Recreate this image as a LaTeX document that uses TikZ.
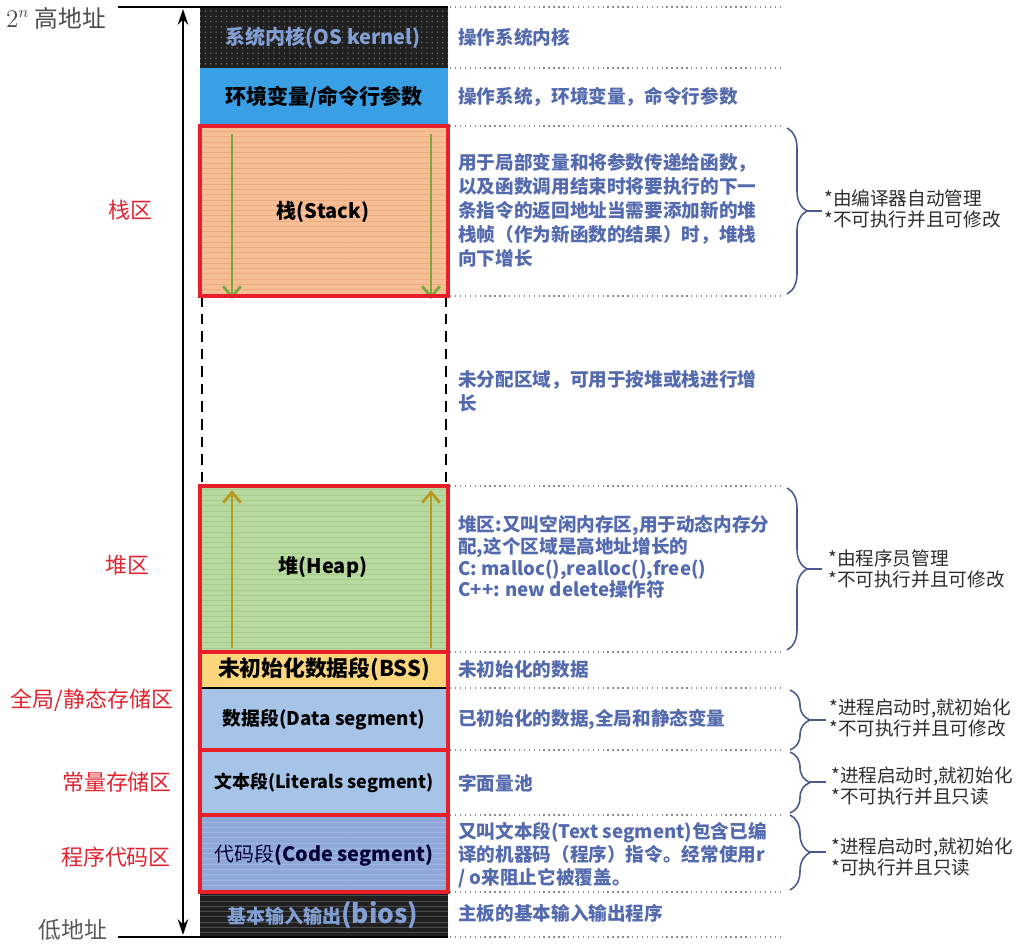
\documentclass[tikz,border=0pt]{standalone}
\usepackage{fontspec}
\setmainfont{Noto Sans CJK SC}
\usepackage{tikz}
\usetikzlibrary{patterns,decorations.pathreplacing,arrows.meta}
\definecolor{kerncol}{RGB}{32,32,32}
\definecolor{kerntext}{RGB}{130,160,214}
\definecolor{envblue}{RGB}{58,160,230}
\definecolor{stackcol}{RGB}{246,190,148}
\definecolor{stackline}{RGB}{236,172,128}
\definecolor{heapcol}{RGB}{184,218,160}
\definecolor{heapline}{RGB}{164,204,136}
\definecolor{bsscol}{RGB}{251,214,124}
\definecolor{datacol}{RGB}{166,196,232}
\definecolor{codecol}{RGB}{144,168,216}
\definecolor{codeline}{RGB}{160,182,226}
\definecolor{framered}{RGB}{232,30,40}
\definecolor{areared}{RGB}{224,36,48}
\definecolor{desccol}{RGB}{84,106,174}
\definecolor{notecol}{RGB}{45,45,45}
\definecolor{bracecol}{RGB}{74,90,144}
\definecolor{stackarrow}{RGB}{122,168,62}
\definecolor{heaparrow}{RGB}{184,154,30}

\begin{document}
\begin{tikzpicture}[x=0.02cm,y=-0.02cm]
\tikzstyle{seglabel}=[font=\bfseries\fontsize{11.4}{13}\selectfont,text=black]
\tikzstyle{desc}=[anchor=west,align=left,inner sep=0pt,font=\bfseries\fontsize{10.6}{13.6}\selectfont,text=desccol]
\tikzstyle{note}=[anchor=west,align=left,inner sep=0pt,font=\fontsize{10.6}{12.4}\selectfont,text=notecol]
\tikzstyle{area}=[font=\fontsize{12.5}{14}\selectfont,text=areared]
\tikzstyle{redbox}=[draw=framered,line width=2.8pt]
\tikzstyle{dotline}=[draw=black!45,dotted,line width=0.8pt]
\tikzstyle{memobrace}=[draw=bracecol,line width=0.9pt,decorate,decoration={brace,amplitude=0.4cm}]
\tikzstyle{growth}=[line width=1.6pt,-{Straight Barb[length=6pt,width=10pt]}]
\useasboundingbox (0,0) rectangle (1019,944);

\fill[kerncol,postaction={pattern=dots,pattern color=black!60}] (200,7) rectangle (448,68);
\fill[envblue] (200,68) rectangle (448,126);
\fill[stackcol,postaction={pattern=horizontal lines,pattern color=stackline}] (200,126) rectangle (448,296);
\fill[heapcol,postaction={pattern=horizontal lines,pattern color=heapline}] (200,486) rectangle (448,652);
\fill[bsscol] (200,652) rectangle (448,688);
\fill[datacol] (200,688) rectangle (448,815);
\fill[codecol,postaction={pattern=horizontal lines,pattern color=codeline}] (200,815) rectangle (448,892);
\fill[kerncol,postaction={pattern=horizontal lines,pattern color=black!70}] (200,892) rectangle (448,937);
\draw[line width=1pt] (200,688) -- (448,688);
\draw[dashed,line width=1.1pt,dash pattern=on 6pt off 4pt] (202,296) -- (202,486) (446,296) -- (446,486);

\draw[growth,stackarrow] (232,134) -- (232,299);
\draw[growth,stackarrow] (431,134) -- (431,299);
\draw[growth,heaparrow] (232,648) -- (232,490);
\draw[growth,heaparrow] (431,648) -- (431,490);

\draw[redbox] (200,126) rectangle (448,296);
\draw[redbox] (200,486) rectangle (448,652);
\draw[redbox] (200,652) rectangle (448,750);
\draw[redbox] (200,750) rectangle (448,815);
\draw[redbox] (200,815) rectangle (448,892);

\foreach \y in {7,68,126,296,486,652,688,750,815,892,937}
  \draw[dotline] (450,\y) -- (780,\y);
\draw[line width=1pt] (118,7) -- (448,7);
\draw[line width=1pt] (118,937) -- (448,937);

\coordinate (hi) at (183,9);
\coordinate (lo) at (183,935);
\draw[line width=1.2pt,{Stealth[length=9pt,width=6pt]}-{Stealth[length=9pt,width=6pt]}] (hi) -- (lo);

\node[seglabel,text=kerntext] (kernel) at (323,38) {系统内核(OS kernel)};
\node[seglabel,font=\bfseries\fontsize{12}{14}\selectfont] (env) at (324,97) {环境变量/命令行参数};
\node[seglabel] (stack) at (323,212) {栈(Stack)};
\node[seglabel] (heap) at (323,567) {堆(Heap)};
\node[seglabel,font=\bfseries\fontsize{12.4}{14}\selectfont] (bss) at (324,669) {未初始化数据段(BSS)};
\node[seglabel,font=\bfseries\fontsize{10.7}{13}\selectfont] (data) at (324,720) {数据段(Data segment)};
\node[seglabel,font=\bfseries\fontsize{10.2}{13}\selectfont] (literal) at (324,783) {文本段(Literals segment)};
\node[seglabel,text=black!80!blue,font=\fontsize{11.3}{14}\selectfont] (code) at (324,855) {代码段{\bfseries(Code segment)}};
\node[seglabel,text=kerntext,font=\bfseries\fontsize{10.8}{14}\selectfont] (bios) at (323,915) {基本输入输出{\fontsize{15}{16}\selectfont(bios)}};

\node[desc] (kerneldesc) at (458,37) {操作系统内核};
\node[desc] (envdesc) at (458,97) {操作系统，环境变量，命令行参数};
\node[desc] (stackdesc) at (458,210) {用于局部变量和将参数传递给函数，\\以及函数调用结束时将要执行的下一\\条指令的返回地址当需要添加新的堆\\栈帧（作为新函数的结果）时，堆栈\\向下增长};
\node[desc] (freedesc) at (458,391) {未分配区域，可用于按堆或栈进行增\\长};
\node[desc,font=\bfseries\fontsize{10.6}{12.3}\selectfont] (heapdesc) at (458,557) {堆区:又叫空闲内存区,用于动态内存分\\配,这个区域是高地址增长的\\C: malloc(),realloc(),free()\\C++: new delete操作符};
\node[desc] (bssdesc) at (458,669) {未初始化的数据};
\node[desc] (datadesc) at (458,720) {已初始化的数据,全局和静态变量};
\node[desc] (literaldesc) at (458,783) {字面量池};
\node[desc,font=\bfseries\fontsize{10.6}{13}\selectfont] (codedesc) at (458,855) {又叫文本段(Text segment)包含已编\\译的机器码（程序）指令。经常使用r\\/ o来阻止它被覆盖。};
\node[desc] (biosdesc) at (458,913) {主板的基本输入输出程序};

\draw[memobrace] (787,128) -- (787,294);
\draw[draw=bracecol,line width=0.9pt] (807,211) -- (822,211);
\draw[memobrace] (787,488) -- (787,650);
\draw[draw=bracecol,line width=0.9pt] (807,569) -- (822,569);
\draw[memobrace] (790,690) -- (790,750);
\draw[draw=bracecol,line width=0.9pt] (810,720) -- (826,720);
\draw[memobrace] (790,752) -- (790,813);
\draw[draw=bracecol,line width=0.9pt] (810,782) -- (826,782);
\draw[memobrace] (790,815) -- (790,890);
\draw[draw=bracecol,line width=0.9pt] (810,852) -- (826,852);

\node[note] (stacknote) at (824,209) {*由编译器自动管理\\*不可执行并且可修改};
\node[note] (heapnote) at (828,569) {*由程序员管理\\*不可执行并且可修改};
\node[note] (datanote) at (829,718) {*进程启动时,就初始化\\*不可执行并且可修改};
\node[note] (literalnote) at (831,786) {*进程启动时,就初始化\\*不可执行并且只读};
\node[note] (codenote) at (831,857) {*进程启动时,就初始化\\*可执行并且只读};

\node[area] (stackarea) at (130,210) {栈区};
\node[area] (heaparea) at (127,565) {堆区};
\node[area] (globalarea) at (92,700) {全局/静态存储区};
\node[area] (constarea) at (117,782) {常量存储区};
\node[area] (codearea) at (116,857) {程序代码区};
\node[anchor=west,font=\fontsize{13.5}{15}\selectfont,text=black!70] (high) at (0,18) {$2^n$ 高地址};
\node[font=\fontsize{13}{15}\selectfont,text=black!65] (low) at (73,930) {低地址};
\end{tikzpicture}
\end{document}
